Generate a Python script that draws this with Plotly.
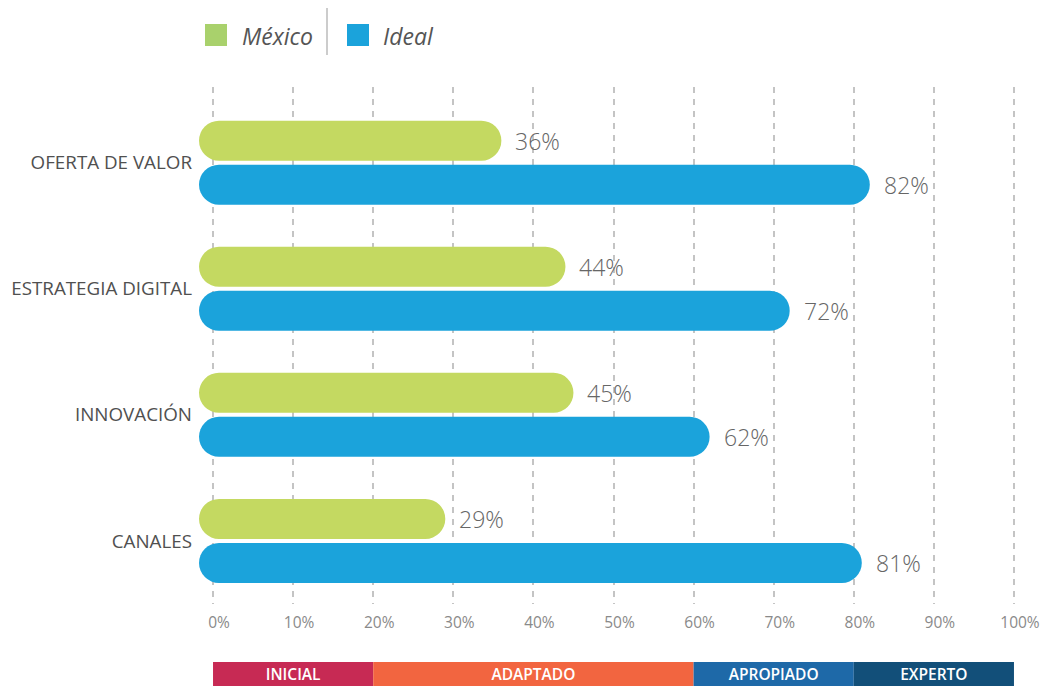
import plotly.graph_objects as go

# ---------------- data ----------------
categories = ["OFERTA DE VALOR", "ESTRATEGIA DIGITAL", "INNOVACIÓN", "CANALES"]
mexico = [36, 44, 45, 29]
ideal = [82, 72, 62, 81]
series_names = ["México", "Ideal"]
tick_values = [0, 10, 20, 30, 40, 50, 60, 70, 80, 90, 100]
tick_labels = ["0%", "10%", "20%", "30%", "40%", "50%", "60%", "70%", "80%", "90%", "100%"]
levels = ["INICIAL", "ADAPTADO", "APROPIADO", "EXPERTO"]
level_start = [0, 20, 60, 80]
level_end = [20, 60, 80, 100]

# ---------------- style ----------------
W, H = 1044, 686
ML, MR, MT, MB = 193, 2, 87, 0
X_RANGE = [-2.5, 103.5]
BAR_START = -1.75
BAR_COLORS = ["#C4D961", "#1BA3DB"]
LEGEND_COLORS = ["#A9D16C", "#1BA3DB"]
LEVEL_COLORS = ["#C72A54", "#F26540", "#1E69A8", "#124F79"]
FONT = "Open Sans"
PX_PER_CAT = 126.1
BAR_W = 40 / PX_PER_CAT
GAP = 4 / PX_PER_CAT
OFFSETS = [-(GAP / 2 + BAR_W), GAP / 2]

plot_h = H - MT - MB
main_bottom_px = 604
band_h_px = 24


def pxx(p):
    return (p - ML) / (W - ML - MR)


def pxy(p):
    return (H - MB - p) / plot_h


fig = go.Figure()
annotations = []

for s, (name, vals) in enumerate(zip(series_names, [mexico, ideal])):
    fig.add_trace(go.Bar(
        y=categories, x=[v - BAR_START for v in vals], base=[BAR_START] * len(vals),
        orientation="h", width=BAR_W, offset=OFFSETS[s],
        marker=dict(color=BAR_COLORS[s], line=dict(width=0), cornerradius=20),
        name=name, showlegend=False, hoverinfo="skip",
        xaxis="x", yaxis="y",
    ))
    for i, v in enumerate(vals):
        annotations.append(dict(
            xref="x", yref="y", x=v, y=i + OFFSETS[s] + BAR_W / 2,
            xanchor="left", yanchor="middle", xshift=12, showarrow=False,
            text=f"{v}%", font=dict(family=FONT, size=23, color="#666666", weight=300),
        ))

# level band
fig.add_trace(go.Bar(
    y=[0] * len(levels), x=[e - b for b, e in zip(level_start, level_end)], base=level_start,
    orientation="h", width=1, marker=dict(color=LEVEL_COLORS, line=dict(width=0)),
    text=levels, textposition="inside", insidetextanchor="middle",
    textfont=dict(family=FONT, size=15.5, color="white", weight=600),
    constraintext="none", showlegend=False, hoverinfo="skip",
    xaxis="x2", yaxis="y2",
))

main_dom_bottom = (H - MB - main_bottom_px) / plot_h
band_top = band_h_px / plot_h

fig.update_layout(
    width=W, height=H,
    margin=dict(l=ML, r=MR, t=MT, b=MB),
    paper_bgcolor="white", plot_bgcolor="white",
    barmode="overlay",
    font=dict(family=FONT),
    xaxis=dict(
        range=X_RANGE, anchor="y", tickvals=tick_values, ticktext=tick_labels,
        showgrid=True, gridcolor="#c4c4c4", gridwidth=1.5, griddash="6px,6px",
        zeroline=False, showline=False, ticks="outside", ticklen=4,
        tickcolor="rgba(0,0,0,0)", ticklabelshift=6,
        tickfont=dict(family=FONT, size=15.5, color="#8a8a8a"), fixedrange=True,
    ),
    yaxis=dict(
        domain=[main_dom_bottom, 1], anchor="x", type="category",
        categoryorder="array", categoryarray=categories,
        range=[3.5, -0.6], showgrid=False, zeroline=False, showline=False,
        ticks="", tickfont=dict(family=FONT, size=18.8, color="#505050"),
    ),
    xaxis2=dict(matches="x", anchor="y2", showgrid=False, zeroline=False,
                showticklabels=False, showline=False),
    yaxis2=dict(domain=[0, band_top], anchor="x2", range=[-0.5, 0.5],
                showgrid=False, zeroline=False, showticklabels=False, showline=False),
)

# custom legend
shapes = []
legend_sq_x = [205, 347]
legend_txt_x = [240, 381]
for i, name in enumerate(series_names):
    shapes.append(dict(type="rect", xref="paper", yref="paper",
                       x0=pxx(legend_sq_x[i]), x1=pxx(legend_sq_x[i] + 22),
                       y0=pxy(46), y1=pxy(24), fillcolor=LEGEND_COLORS[i],
                       line=dict(width=0)))
    annotations.append(dict(xref="paper", yref="paper", x=pxx(legend_txt_x[i]), y=pxy(36),
                            xanchor="left", yanchor="middle", showarrow=False,
                            text=f"<i>{name}</i>",
                            font=dict(family=FONT, size=23, color="#555555")))
shapes.append(dict(type="line", xref="paper", yref="paper", x0=pxx(327), x1=pxx(327),
                   y0=pxy(55), y1=pxy(8), line=dict(color="#bbbbbb", width=1.5)))
fig.update_layout(shapes=shapes, annotations=annotations)

fig.write_html("out.html")
